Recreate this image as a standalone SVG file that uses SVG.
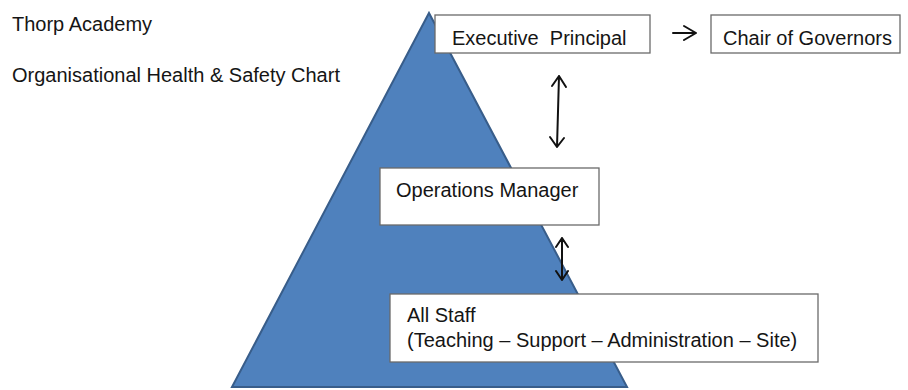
<svg xmlns="http://www.w3.org/2000/svg" width="908" height="390" viewBox="0 0 908 390">
<defs>
<style>
.t{font-family:"Liberation Sans",Arial,sans-serif;font-size:20px;fill:#151515;white-space:pre}
.box{fill:#fff;stroke:#6a6a6a;stroke-width:1.3}
.arr{fill:none;stroke:#111;stroke-width:2;stroke-linecap:round;stroke-linejoin:round}
</style>
</defs>
<rect width="908" height="390" fill="#fff"/>
<g id="title">
<text class="t" x="12" y="31">Thorp Academy</text>
<text class="t" x="12" y="82">Organisational Health &amp; Safety Chart</text>
</g>
<g id="pyramid">
<polygon points="429,13 627,387 232,387" fill="#4F81BD" stroke="#385D8A" stroke-width="2"/>
</g>
<g id="executive-principal">
<rect class="box" x="435" y="15" width="215" height="38"/>
<text class="t" x="452" y="45" xml:space="preserve">Executive  Principal</text>
</g>
<g id="chair-of-governors">
<rect class="box" x="711" y="15" width="189" height="38"/>
<text class="t" x="723" y="45">Chair of Governors</text>
</g>
<g id="operations-manager">
<rect class="box" x="380" y="168" width="219" height="57"/>
<text class="t" x="396" y="197">Operations Manager</text>
</g>
<g id="all-staff">
<rect class="box" x="390" y="294" width="428" height="68"/>
<text class="t" x="407" y="322">All Staff</text>
<text class="t" x="407" y="347">(Teaching – Support – Administration – Site)</text>
</g>
<g id="connectors">
<path class="arr" d="M673,33 H696 M684,26 L696,33 L684,40"/>
<path class="arr" d="M559,76 L557,147 M552,86 L559,76 L566,87 M550,137 L557,147 L564,138"/>
<path class="arr" d="M562,238 V280 M556,247 L562,238 L568,247 M556,271 L562,280 L568,271"/>
</g>
</svg>
